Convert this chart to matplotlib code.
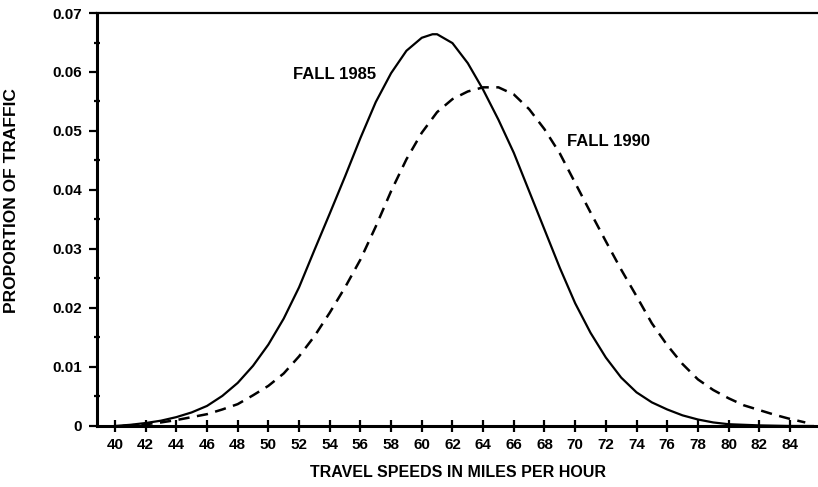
import matplotlib
matplotlib.use('Agg')
import matplotlib.pyplot as plt
import numpy as np

plt.rcParams['font.family'] = ['Liberation Sans', 'DejaVu Sans']

# speeds (mph) and proportion of traffic
speed_1985 = [40, 41, 42, 43, 44, 45, 46, 47, 48, 49, 50, 51, 52, 53, 54, 55,
              56, 57, 58, 59, 60, 60.7, 61, 62, 63, 64, 65, 66, 67, 68, 69, 70,
              71, 72, 73, 74, 75, 76, 77, 78, 79, 80, 82, 84, 85.5]
prop_1985 = [0.0, 0.0002, 0.0005, 0.0009, 0.0015, 0.0023, 0.0034, 0.0051,
             0.0073, 0.0102, 0.0138, 0.0182, 0.0235, 0.0298, 0.0360, 0.0423,
             0.0488, 0.0549, 0.0598, 0.0636, 0.0658, 0.0664, 0.0664, 0.0649,
             0.0615, 0.0570, 0.0519, 0.0463, 0.0398, 0.0333, 0.0268, 0.0208,
             0.0158, 0.0116, 0.0082, 0.0057, 0.0040, 0.0028, 0.0018, 0.0011,
             0.0006, 0.0003, 0.0001, 0.0, 0.0]

speed_1990 = [40.5, 42, 43, 44, 45, 46, 47, 48, 49, 50, 51, 52, 53, 54, 55, 56,
              57, 58, 59, 60, 61, 62, 63, 64, 65, 66, 67, 68, 69, 70, 71, 72,
              73, 74, 75, 76, 77, 78, 79, 80, 81, 82, 83, 84, 85]
prop_1990 = [0.0, 0.0003, 0.0006, 0.0010, 0.0015, 0.0020, 0.0028, 0.0037,
             0.0052, 0.0068, 0.0089, 0.0118, 0.0152, 0.0192, 0.0235, 0.0282,
             0.0338, 0.0398, 0.0452, 0.0497, 0.0532, 0.0554, 0.0567, 0.0574,
             0.0574, 0.0562, 0.0537, 0.0503, 0.0462, 0.0412, 0.0362, 0.0313,
             0.0265, 0.0220, 0.0174, 0.0137, 0.0105, 0.0079, 0.0061, 0.0047,
             0.0035, 0.0027, 0.0019, 0.0012, 0.0006]

x_ticks = list(range(40, 85, 2))
y_ticks = [0, 0.01, 0.02, 0.03, 0.04, 0.05, 0.06, 0.07]
y_labels = ['0', '0.01', '0.02', '0.03', '0.04', '0.05', '0.06', '0.07']

fig = plt.figure(figsize=(8.18, 4.87), dpi=100)
ax = fig.add_axes([0.1186, 0.1253, 0.8814, 0.848])

ax.plot(speed_1985, prop_1985, color='black', linewidth=1.6)
ax.plot(speed_1990, prop_1990, color='black', linewidth=1.8, dashes=(4.5, 3))

ax.set_xlim(38.83, 85.83)
ax.set_ylim(0, 0.07)

ax.spines['right'].set_visible(False)
for s in ['left', 'bottom']:
    ax.spines[s].set_linewidth(2.2)
ax.spines['top'].set_linewidth(1.6)

ax.set_xticks(x_ticks)
ax.set_xticklabels([str(v) for v in x_ticks])
ax.set_yticks(y_ticks)
ax.set_yticklabels(y_labels)
ax.set_yticks(np.arange(0.005, 0.07, 0.01), minor=True)

ax.tick_params(axis='x', direction='inout', length=8, width=1.6, pad=5,
               labelsize=11)
ax.tick_params(axis='y', which='major', direction='out', length=6, width=1.6,
               pad=5, labelsize=11)
ax.tick_params(axis='y', which='minor', direction='inout', length=4, width=1.6)
for lab in ax.get_xticklabels() + ax.get_yticklabels():
    lab.set_fontweight('bold')

ax.set_xlabel('TRAVEL SPEEDS IN MILES PER HOUR', fontsize=11.5,
              fontweight='bold', va='center')
ax.xaxis.set_label_coords(0.5, -0.112)
ax.set_ylabel('PROPORTION OF TRAFFIC', fontsize=12.5, fontweight='bold',
              va='center')
ax.yaxis.set_label_coords(-0.1186, 0.545)

ax.text(51.6, 0.0595, 'FALL 1985', fontsize=12, fontweight='bold', va='center')
ax.text(69.5, 0.0482, 'FALL 1990', fontsize=12, fontweight='bold', va='center')

fig.savefig('out.png', dpi=100)
